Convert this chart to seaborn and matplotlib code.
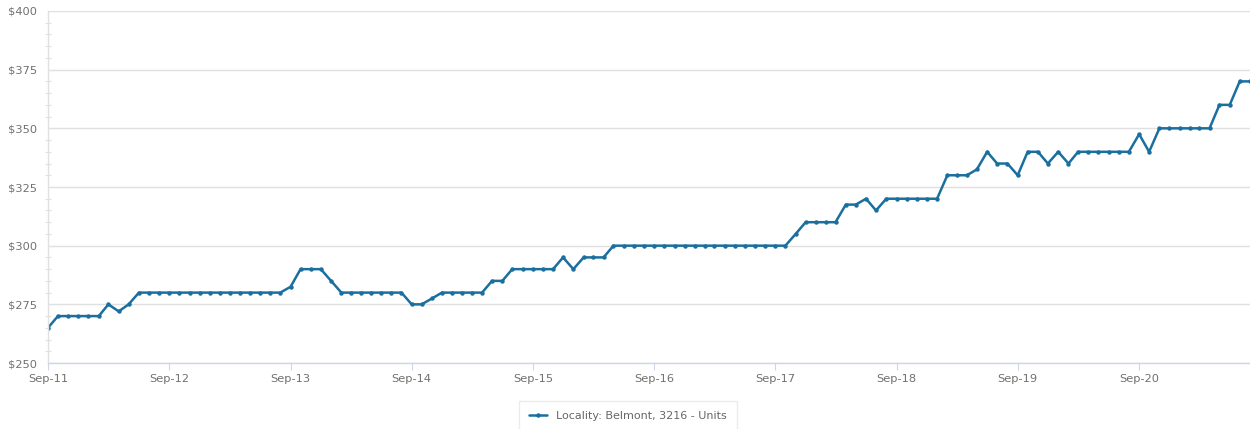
import pandas as pd
import matplotlib
matplotlib.use("Agg")
import matplotlib.pyplot as plt
import matplotlib.dates as mdates
from matplotlib.ticker import MultipleLocator, FuncFormatter
import seaborn as sns

# monthly median rent, Belmont 3216 units, Sep-11 .. Aug-21
start_month = "2011-09-01"
rent = [
    265, 270, 270, 270, 270, 270, 275, 272, 275, 280,   # Sep-11 .. Jun-12
    280, 280, 280, 280, 280, 280, 280, 280, 280, 280,   # Jul-12 .. Apr-13
    280, 280, 280, 280, 282.5, 290, 290, 290, 285, 280,  # May-13 .. Feb-14
    280, 280, 280, 280, 280, 280, 275, 275, 277.5, 280,  # Mar-14 .. Dec-14
    280, 280, 280, 280, 285, 285, 290, 290, 290, 290,   # Jan-15 .. Oct-15
    290, 295, 290, 295, 295, 295, 300, 300, 300, 300,   # Nov-15 .. Aug-16
    300, 300, 300, 300, 300, 300, 300, 300, 300, 300,   # Sep-16 .. Jun-17
    300, 300, 300, 300, 305, 310, 310, 310, 310, 317.5,  # Jul-17 .. Apr-18
    317.5, 320, 315, 320, 320, 320, 320, 320, 320, 330,  # May-18 .. Feb-19
    330, 330, 332.5, 340, 335, 335, 330, 340, 340, 335,  # Mar-19 .. Dec-19
    340, 335, 340, 340, 340, 340, 340, 340, 347.5, 340,  # Jan-20 .. Oct-20
    350, 350, 350, 350, 350, 350, 360, 360, 370, 370,   # Nov-20 .. Aug-21
]
series_label = "Locality: Belmont, 3216 - Units"

months = pd.date_range(start_month, periods=len(rent), freq="MS")
df = pd.DataFrame({"month": months, "rent": rent})

line_color = "#1b6f9f"
grid_color = "#e0e0e0"
axis_color = "#ccd6eb"
label_color = "#707070"

sns.set_style("white")
plt.rcParams["font.family"] = ["DejaVu Sans"]

fig = plt.figure(figsize=(12.5, 4.29), dpi=100)
ax = fig.add_axes([0.0384, 0.1538, 0.9616, 0.8206])

sns.lineplot(data=df, x="month", y="rent", ax=ax, color=line_color,
             linewidth=1.8, marker="o", markersize=3.2, markeredgewidth=0,
             label=series_label)

ax.set_xlim(months[0], months[-1])
ax.set_ylim(250, 400)
ax.set_xlabel("")
ax.set_ylabel("")

ax.yaxis.set_major_locator(MultipleLocator(25))
ax.yaxis.set_minor_locator(MultipleLocator(5))
ax.yaxis.set_major_formatter(FuncFormatter(lambda v, p: f"${v:.0f}"))
ax.xaxis.set_major_locator(mdates.MonthLocator(bymonth=9))
ax.xaxis.set_major_formatter(mdates.DateFormatter("%b-%y"))

ax.grid(axis="y", color=grid_color, linewidth=1)
ax.set_axisbelow(True)
for side in ["top", "right"]:
    ax.spines[side].set_visible(False)
ax.spines["left"].set_color(grid_color)
ax.spines["bottom"].set_color(axis_color)
ax.spines["left"].set_linewidth(1)
ax.spines["bottom"].set_linewidth(1)

ax.tick_params(axis="y", which="major", length=0, labelsize=8.2, labelcolor=label_color, pad=8)
ax.tick_params(axis="y", which="minor", left=True, length=4, width=0.8, color=grid_color, direction="inout")
ax.tick_params(axis="x", which="major", bottom=True, length=5, width=0.8, color=axis_color,
               labelsize=8.2, labelcolor=label_color, pad=3)

ax.legend_.remove()
handles, labels = ax.get_legend_handles_labels()
leg = fig.legend(handles, labels, loc="upper center", bbox_to_anchor=(0.5024, 0.078),
                 frameon=True, fontsize=8, handlelength=1.6, borderpad=0.9,
                 fancybox=False, edgecolor="#e6e6e6")
for t in leg.get_texts():
    t.set_color("#666666")

fig.savefig("out.png", dpi=100)
